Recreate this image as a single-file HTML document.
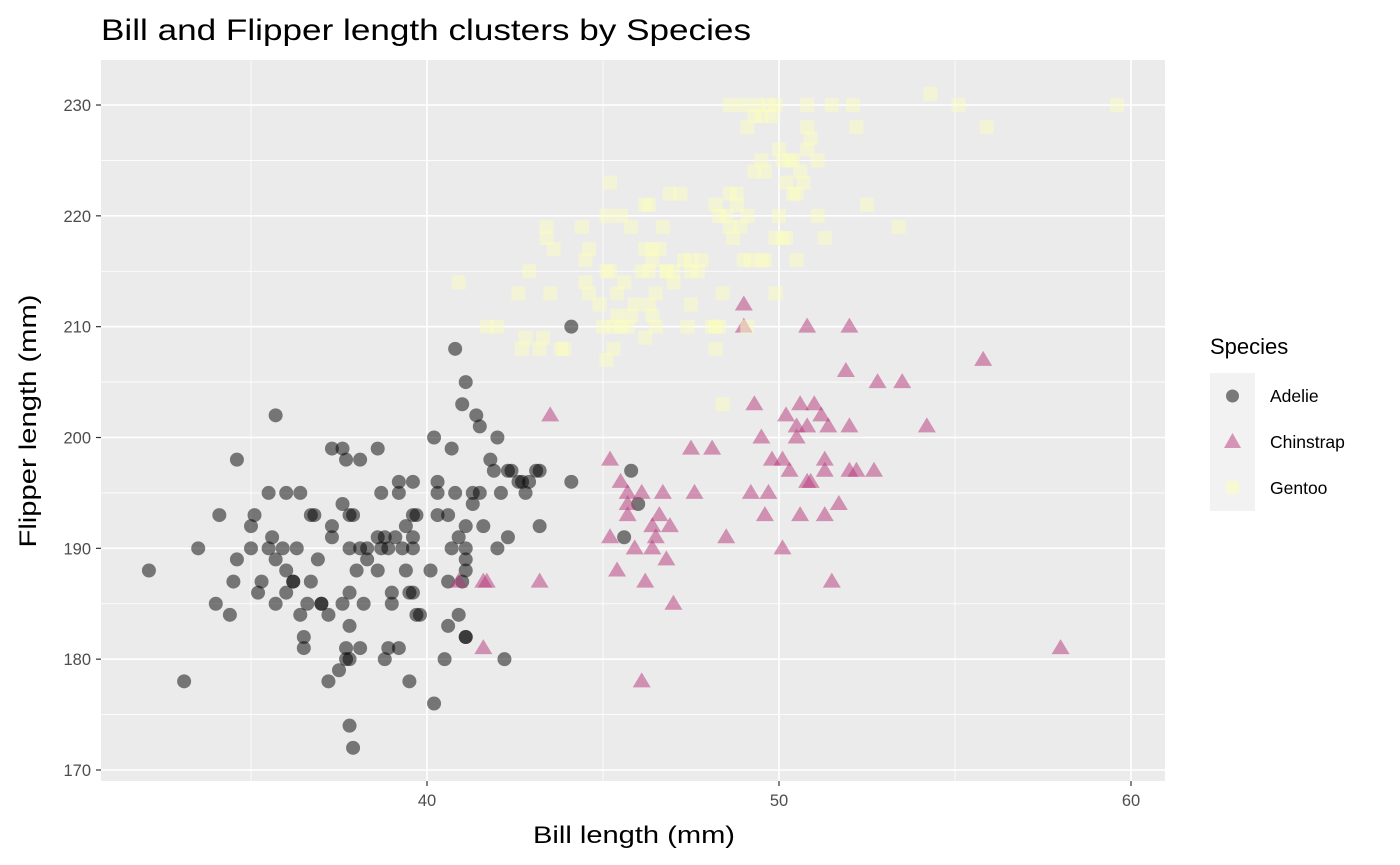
<!DOCTYPE html>
<html><head><meta charset="utf-8">
<style>
body{margin:0;background:#fff;font-family:"Liberation Sans",Arial,sans-serif;}
svg{display:block}
</style></head>
<body>
<svg id="chart" width="1400" height="865" xmlns="http://www.w3.org/2000/svg" font-family="Liberation Sans, Arial, sans-serif">
<text x="101" y="40" font-size="30" textLength="650" lengthAdjust="spacingAndGlyphs" fill="#000">Bill and Flipper length clusters by Species</text>
<rect x="101" y="60" width="1064" height="721" fill="#EBEBEB"/>
<g id="grid"></g>
<g id="points"></g>
<g id="axes"></g>
<text x="634" y="843" font-size="24" textLength="202" lengthAdjust="spacingAndGlyphs" text-anchor="middle" fill="#000">Bill length (mm)</text>
<text transform="translate(36,421) rotate(-90)" font-size="24" textLength="253" lengthAdjust="spacingAndGlyphs" text-anchor="middle" fill="#000">Flipper length (mm)</text>
<g>
<text x="1210" y="354" font-size="22" fill="#000">Species</text>
<rect x="1210" y="373" width="45" height="138" fill="#F2F2F2"/>
<circle cx="1232.5" cy="396" r="6.5" fill="#000" fill-opacity="0.5"/>
<polygon points="1232.5,433 1241,448 1224,448" fill="#B63679" fill-opacity="0.5"/>
<rect x="1226" y="481" width="13" height="13" fill="#FCFDBF" fill-opacity="0.6"/>
<text x="1270" y="402" font-size="17.5">Adelie</text>
<text x="1270" y="448" font-size="17.5">Chinstrap</text>
<text x="1270" y="494" font-size="17.5">Gentoo</text>
</g>
</svg>
<script>
const xTicks=[40,50,60];
const xMinor=[35,45,55];
const yTicks=[170,180,190,200,210,220,230];
const yMinor=[175,185,195,205,215,225];
const adelie=[[32.1,188],[33.1,178],[33.5,190],[34,185],[34.1,193],[34.4,184],[34.5,187],[34.6,198],[34.6,189],[35,190],[35,192],[35.1,193],[35.2,186],[35.3,187],[35.5,195],[35.5,190],[35.6,191],[35.7,185],[35.7,202],[35.7,189],[35.9,190],[36,188],[36,195],[36,186],[36.2,187],[36.3,190],[36.4,195],[36.4,184],[36.5,182],[36.5,181],[36.6,185],[36.7,193],[36.7,187],[36.8,193],[36.9,189],[37,185],[37.2,184],[37.2,178],[37.3,192],[37.3,199],[37.3,191],[37.5,179],[37.6,199],[37.6,194],[37.6,185],[37.7,198],[37.7,180],[37.7,181],[37.8,183],[37.8,193],[37.8,186],[37.8,190],[37.8,174],[37.9,172],[37.8,180],[37.9,193],[38,188],[38.1,190],[38.1,198],[38.1,181],[38.2,185],[38.3,189],[38.3,190],[38.6,199],[38.6,188],[38.6,191],[38.7,195],[38.7,190],[38.8,180],[38.8,191],[38.9,181],[38.9,190],[39,186],[39,185],[39.1,191],[39.2,181],[39.2,195],[39.2,196],[39.3,190],[39.4,192],[39.4,188],[39.5,178],[39.5,186],[39.6,196],[39.6,190],[39.6,191],[39.7,184],[39.7,193],[39.8,184],[40.1,188],[40.2,200],[40.2,176],[40.3,193],[40.3,195],[40.3,196],[40.5,180],[40.6,187],[40.6,193],[40.6,183],[40.7,199],[40.7,190],[40.8,208],[40.8,195],[40.9,184],[40.9,191],[41,203],[41,187],[41.1,188],[41.1,192],[41.1,189],[41.1,205],[41.1,182],[41.1,190],[41.3,195],[41.3,194],[41.4,202],[41.5,195],[41.5,201],[41.6,192],[41.8,198],[41.9,197],[42,190],[42,200],[42.1,195],[42.3,191],[42.2,180],[42.3,197],[42.4,197],[42.6,196],[42.7,196],[42.8,195],[42.9,196],[43.1,197],[43.2,197],[43.2,192],[44.1,210],[44.1,196],[45.8,197],[45.6,191],[46,194],[36.2,187],[37,185],[39.6,193],[39.6,186],[41.1,182]];
const chinstrap=[[40.9,187],[41.6,187],[41.7,187],[41.6,181],[43.2,187],[43.5,202],[45.2,198],[45.2,191],[45.4,188],[45.5,196],[45.7,194],[45.7,195],[45.7,193],[45.9,190],[46.1,195],[46.1,178],[46.2,187],[46.4,192],[46.4,190],[46.5,191],[46.6,193],[46.7,195],[46.8,189],[46.9,192],[47,185],[47.5,199],[47.6,195],[48.1,199],[48.5,191],[49,212],[49,210],[49.2,195],[49.3,203],[49.5,200],[49.6,193],[49.7,195],[49.8,198],[50.1,190],[50.1,198],[50.2,202],[50.3,197],[50.5,201],[50.5,200],[50.6,193],[50.6,203],[50.8,201],[50.8,210],[50.8,196],[50.9,196],[51,203],[51.2,202],[51.3,193],[51.3,197],[51.3,198],[51.4,201],[51.5,187],[51.7,194],[51.9,206],[52,210],[52,201],[52,197],[52.2,197],[52.7,197],[52.8,205],[53.5,205],[54.2,201],[55.8,207],[58,181]];
const gentoo=[[40.9,214],[41.7,210],[42.0,210],[42.7,208],[42.8,209],[42.9,215],[42.6,213],[43.2,208],[43.3,209],[43.4,219],[43.4,218],[43.5,213],[43.6,217],[43.8,208],[43.9,208],[44.4,219],[44.5,216],[44.5,214],[44.6,217],[44.6,213],[44.9,212],[45.0,210],[45.1,207],[45.1,220],[45.1,215],[45.2,223],[45.2,215],[45.3,210],[45.3,208],[45.4,213],[45.4,211],[45.5,220],[45.5,210],[45.6,214],[45.7,210],[45.8,219],[45.8,211],[45.9,212],[46.1,215],[46.2,217],[46.2,221],[46.2,209],[46.3,215],[46.3,221],[46.3,212],[46.4,217],[46.4,211],[46.4,216],[46.5,213],[46.5,210],[46.6,217],[46.7,219],[46.8,215],[46.8,215],[46.9,222],[47.0,215],[47.0,214],[47.2,222],[47.3,216],[47.4,210],[47.5,212],[47.5,215],[47.5,216],[47.7,215],[47.8,216],[48.1,210],[48.2,210],[48.2,221],[48.2,208],[48.3,210],[48.3,220],[48.4,213],[48.4,203],[48.5,220],[48.6,230],[48.6,222],[48.6,219],[48.7,218],[48.8,222],[48.8,221],[48.9,219],[49.0,230],[49.0,216],[49.1,210],[49.1,228],[49.1,220],[49.2,216],[49.3,224],[49.3,229],[49.4,230],[49.5,216],[49.5,225],[49.5,229],[49.6,216],[49.6,224],[49.7,230],[49.8,229],[49.9,213],[49.9,230],[49.9,218],[50.0,220],[50.0,226],[50.1,218],[50.1,225],[50.2,218],[50.2,223],[50.3,225],[50.4,222],[50.4,225],[50.5,216],[50.5,222],[50.6,224],[50.7,223],[50.8,226],[50.8,228],[50.8,230],[50.9,227],[51.1,220],[51.1,225],[51.3,218],[51.5,230],[52.1,230],[52.2,228],[52.5,221],[53.4,219],[54.3,231],[55.1,230],[55.9,228],[59.6,230]];

const NS='http://www.w3.org/2000/svg';
function sx(v){return 427+(v-40)*35.2;}
function sy(v){return 437.5-(v-200)*11.083;}
function mk(tag,attrs,parent){const e=document.createElementNS(NS,tag);for(const k in attrs)e.setAttribute(k,attrs[k]);parent.appendChild(e);return e;}
const grid=document.getElementById('grid'),pts=document.getElementById('points'),axes=document.getElementById('axes');
xMinor.forEach(v=>{const l=mk('line',{x1:sx(v),x2:sx(v),y1:60,y2:781,stroke:'#fff','stroke-width':0.8},grid);

});
yMinor.forEach(v=>{const l=mk('line',{x1:101,x2:1165,y1:sy(v),y2:sy(v),stroke:'#fff','stroke-width':0.8},grid);

});
xTicks.forEach(v=>{const l=mk('line',{x1:sx(v),x2:sx(v),y1:60,y2:781,stroke:'#fff','stroke-width':1.6},grid);


const t=mk('line',{x1:sx(v),x2:sx(v),y1:781,y2:786,stroke:'#333','stroke-width':1.2},axes);


const tx=mk('text',{x:sx(v),y:806,'font-size':16.5,fill:'#4D4D4D','text-anchor':'middle'},axes);tx.textContent=v;

});
yTicks.forEach(v=>{const l=mk('line',{x1:101,x2:1165,y1:sy(v),y2:sy(v),stroke:'#fff','stroke-width':1.6},grid);


const t=mk('line',{x1:96,x2:101,y1:sy(v),y2:sy(v),stroke:'#333','stroke-width':1.2},axes);


const tx=mk('text',{x:91,y:sy(v)+6,'font-size':16.5,fill:'#4D4D4D','text-anchor':'end'},axes);tx.textContent=v;

});
adelie.forEach(d=>{const c=mk('circle',{cx:sx(d[0]),cy:sy(d[1]),r:7,fill:'#000','fill-opacity':0.5},pts);

});
chinstrap.forEach(d=>{const x=sx(d[0]),y=sy(d[1]);const p=mk('polygon',{points:`${x},${y-9} ${x+9},${y+6} ${x-9},${y+6}`,fill:'#B63679','fill-opacity':0.5},pts);

});
gentoo.forEach(d=>{const r=mk('rect',{x:sx(d[0])-7,y:sy(d[1])-7,width:14,height:14,fill:'#FCFDBF','fill-opacity':0.5},pts);

});
</script>
</body></html>
